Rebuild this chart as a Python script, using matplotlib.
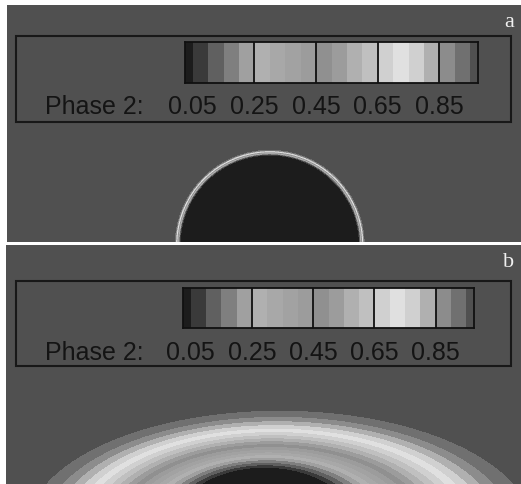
import numpy as np
import matplotlib
matplotlib.use("Agg")
import matplotlib.pyplot as plt
from matplotlib.colors import ListedColormap, BoundaryNorm
from matplotlib.patches import Rectangle

# picture size in pixels
W, H = 521, 484

levels = np.round(np.arange(0, 1.0001, 0.05), 2)
band_grays = [28, 58, 96, 127, 160, 176, 168, 162, 156, 144,
              156, 176, 192, 208, 224, 208, 176, 140, 112, 80]
tick_labels = ["0.05", "0.25", "0.45", "0.65", "0.85"]
tick_band_edges = [1, 5, 9, 13, 17]      # which band edge each label sits on
divider_edges = [5, 9, 13, 17]
panel_letters = ["a", "b"]

# panel a: drop (circle) with a thin interface
drop_center = (270, 245)
drop_radius = 92
interface_width = 2.0

# panel b: spread-out drop, inner (phase 0.05) and outer (phase 0.95) ellipses
inner_ell = dict(cx=265, cy=530, a=93, b=62)
outer_ell = dict(cx=280, cy=530, a=253, b=119)
profile_exp = 1.3

cmap = ListedColormap([(g / 255, g / 255, g / 255) for g in band_grays])
norm = BoundaryNorm(levels, cmap.N)


def px_rect(x0, y0, x1, y1):
    return [x0 / W, 1 - y1 / H, (x1 - x0) / W, (y1 - y0) / H]


def grid(x0, y0, x1, y1):
    xs = np.arange(x0, x1, 0.5) + 0.25
    ys = np.arange(y0, y1, 0.5) + 0.25
    return np.meshgrid(xs, ys)


def ell_at(X, Y, t):
    # radius of point in the ellipse that is a fraction t from inner to outer
    cx = inner_ell["cx"] + t * (outer_ell["cx"] - inner_ell["cx"])
    cy = inner_ell["cy"] + t * (outer_ell["cy"] - inner_ell["cy"])
    a = inner_ell["a"] + t * (outer_ell["a"] - inner_ell["a"])
    b = inner_ell["b"] + t * (outer_ell["b"] - inner_ell["b"])
    return np.sqrt(((X - cx) / a) ** 2 + ((Y - cy) / b) ** 2)


def ell_param(X, Y):
    lo = np.full(X.shape, -0.5)
    hi = np.full(X.shape, 1.5)
    for _ in range(30):
        mid = (lo + hi) / 2
        inside = ell_at(X, Y, mid) < 1
        hi = np.where(inside, mid, hi)
        lo = np.where(inside, lo, mid)
    return (lo + hi) / 2


fig = plt.figure(figsize=(W / 100, H / 100), dpi=100)
fig.patch.set_facecolor("white")

panels = [(7, 5, 521, 242), (6, 245, 521, 484)]
frames = [(16, 36, 511, 122), (16, 281, 511, 366)]
cbars = [(185, 42, 478, 83), (183, 288, 474, 328)]
text_base = [114, 360]

for i, (x0, y0, x1, y1) in enumerate(panels):
    ax = fig.add_axes(px_rect(x0, y0, x1, y1))
    X, Y = grid(x0, y0, x1, y1)
    if i == 0:
        r = np.hypot(X - drop_center[0], Y - drop_center[1])
        phi = 0.5 * (1 + np.tanh((r - drop_radius) / interface_width))
    else:
        t = ell_param(X, Y)
        tc = np.clip(t, 0, 1)
        phi = 0.05 + 0.9 * (1 - (1 - tc) ** profile_exp)
        phi = np.where(t < 0, 0.02, phi)
        phi = np.where(t > 1, 0.99, phi)
    phi = np.clip(phi, 0.001, 0.999)
    ax.imshow(phi, cmap=cmap, norm=norm, extent=(x0, x1, y1, y0),
              interpolation="nearest", aspect="auto")
    ax.set_xlim(x0, x1)
    ax.set_ylim(y1, y0)
    ax.axis("off")

    fx0, fy0, fx1, fy1 = frames[i]
    ax.add_patch(Rectangle((fx0, fy0), fx1 - fx0, fy1 - fy0, fill=False,
                           ec="#181818", lw=1.5))
    ax.text(45, text_base[i], "Phase 2:", fontsize=18, color="#141414",
            family="Liberation Sans", va="baseline", ha="left")
    ax.text(x1 - 12, y0 + 8, panel_letters[i], fontsize=16, color="#f0f0f0",
            family="Liberation Serif", va="top", ha="center")

    # legend bar
    cx0, cy0, cx1, cy1 = cbars[i]
    cax = fig.add_axes(px_rect(cx0, cy0, cx1, cy1))
    edges = np.concatenate([[0], np.arange(0.5, 19, 1), [19]])
    mids = (levels[:-1] + levels[1:]) / 2
    cax.pcolormesh(edges, [0, 1], mids[None, :], cmap=cmap, norm=norm)
    cax.set_xlim(0, 19)
    cax.set_ylim(0, 1)
    cax.set_xticks([])
    cax.set_yticks([])
    for sp in cax.spines.values():
        sp.set_color("#101010")
        sp.set_linewidth(1.3)
    for k in divider_edges:
        cax.axvline(edges[k], color="#101010", lw=1.3)
    lab_y = (cy1 - text_base[i]) / (cy1 - cy0)
    for k, lab in zip(tick_band_edges, tick_labels):
        cax.text(edges[k], lab_y, lab, transform=cax.get_xaxis_transform(),
                 fontsize=18, color="#141414", family="Liberation Sans",
                 va="baseline", ha="center", clip_on=False)

plt.savefig("out.png", dpi=100)
